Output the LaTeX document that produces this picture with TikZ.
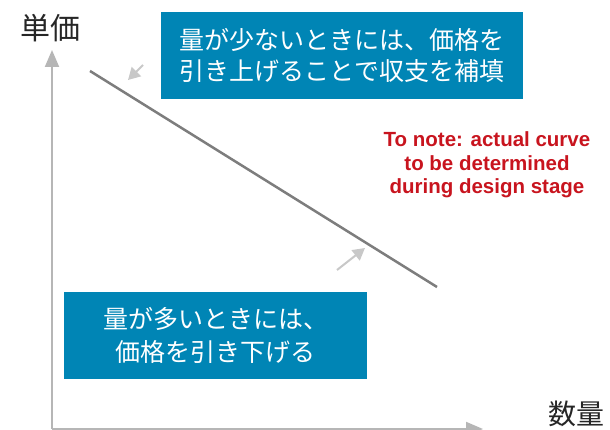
\documentclass[tikz,border=0pt]{standalone}
\usepackage{fontspec}
\setmainfont{Liberation Sans}
\newfontfamily\jpfont{Noto Sans CJK JP}
\usetikzlibrary{arrows.meta}
\definecolor{boxblue}{RGB}{0,133,181}
\definecolor{notered}{RGB}{200,20,30}
\definecolor{axisgray}{RGB}{182,182,182}
\definecolor{curvegray}{RGB}{125,125,125}
\definecolor{hintgray}{RGB}{200,200,200}
\begin{document}
\begin{tikzpicture}[x=1pt,y=-1pt,
  bluebox/.style={fill=boxblue, text=white, inner sep=0pt, align=center},
  axislabel/.style={font=\jpfont\fontsize{30}{32}\selectfont, text=black!85, inner sep=0pt},
  notetext/.style={text=notered, align=center, inner sep=0pt, font=\bfseries\fontsize{20.5}{23.5}\selectfont},
  axisline/.style={draw=axisgray, line width=2pt, -{Triangle[width=14pt,length=17pt]}},
  curveline/.style={draw=curvegray, line width=2.5pt},
  hintarrow/.style={draw=hintgray, line width=2pt, -{Triangle[width=13pt,length=12pt]}}
]
\useasboundingbox (0,0) rectangle (610,430);
% axes
\coordinate (O) at (52,429);
\coordinate (ytip) at (52,50);
\coordinate (xtip) at (483,429);
\draw[axisline] (O) -- (ytip);
\draw[axisline] (O) -- (xtip);
\node[axislabel] (ylab) at (50,28) {単価};
\node[axislabel, font=\jpfont\fontsize{28}{30}\selectfont] (xlab) at (576,414) {数量};
% curve
\coordinate (c1) at (90,71);
\coordinate (c2) at (437,287);
\draw[curveline] (c1) -- (c2);
% hint arrows
\coordinate (h1s) at (143,65);
\coordinate (h1e) at (128,80);
\coordinate (h2s) at (337,270);
\coordinate (h2e) at (365,248);
\draw[hintarrow] (h1s) -- (h1e);
\draw[hintarrow] (h2s) -- (h2e);
% boxes
\node[bluebox, minimum width=362pt, minimum height=87pt, font=\jpfont\fontsize{25}{31}\selectfont] (topbox) at (342,55.5)
  {量が少ないときには、価格を\\引き上げることで収支を補填};
\node[bluebox, minimum width=303pt, minimum height=87pt, font=\jpfont\fontsize{25}{33}\selectfont] (botbox) at (215.5,335.5)
  {量が多いときには、\\価格を引き下げる};
% note
\node[notetext] (note) at (487,165) {To note: actual curve\\to be determined\\during design stage};
\end{tikzpicture}
\end{document}
